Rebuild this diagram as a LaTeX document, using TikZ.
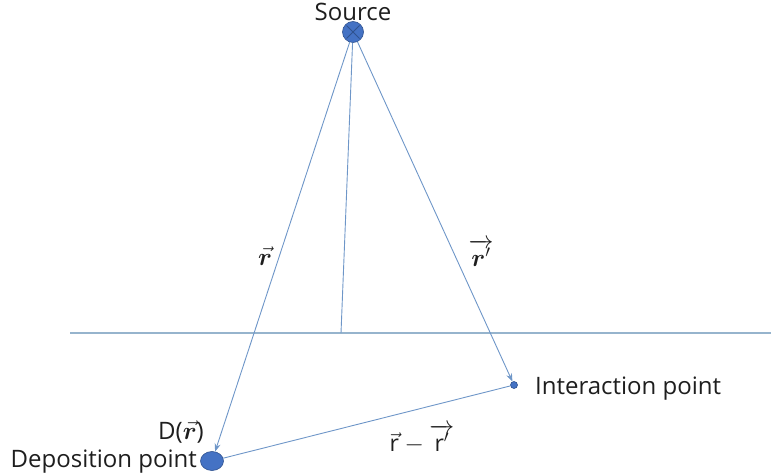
\documentclass[tikz,border=0pt]{standalone}
\usepackage{fontspec}
\setmainfont{Open Sans}
\usepackage{amsmath}
\usepackage{bm}
\usetikzlibrary{shapes.geometric,arrows.meta,calc}
\definecolor{lineblue}{RGB}{110,150,200}
\definecolor{planeblue}{RGB}{150,180,205}
\definecolor{dotfill}{RGB}{68,114,196}
\definecolor{dotedge}{RGB}{47,82,143}
\definecolor{txt}{RGB}{30,30,30}
\tikzset{
  conn/.style={draw=lineblue, line width=0.9pt},
  arr/.style={conn, -{Stealth[length=8pt,width=6pt]}},
  dot/.style={circle, fill=dotfill, draw=dotedge, line width=0.6pt, inner sep=0pt},
  lbl/.style={text=txt, inner sep=0pt, font=\fontsize{24}{28}\selectfont},
  mlbl/.style={text=txt, inner sep=0pt, font=\fontsize{25}{29}\selectfont}
}
\begin{document}
\begin{tikzpicture}[x=1pt,y=-1pt]
\useasboundingbox (0,0) rectangle (771,476);
% points
\node[dot, minimum size=21pt] (src) at (353,32) {};
\draw[dotedge, line width=0.8pt] ($(src.center)+(-6.5,-6.5)$) -- ($(src.center)+(6.5,6.5)$)
  ($(src.center)+(-6.5,6.5)$) -- ($(src.center)+(6.5,-6.5)$);
\node[dot, ellipse, minimum width=23pt, minimum height=19pt] (dep) at (212,461) {};
\node[dot, minimum size=7pt] (int) at (514,385) {};
% reference plane
\coordinate (hl) at (70,333);
\coordinate (hr) at (771,333);
\coordinate (foot) at (341,333);
\draw[conn, draw=planeblue, line width=1.1pt] (hl) -- (hr);
\draw[conn] (src) -- (foot);
% vectors
\draw[arr] (src) -- (dep);
\draw[arr] (src) -- (int);
\draw[conn] (int) -- (dep);
% labels
\node[lbl, anchor=base] (srclbl) at (353,21) {Source};
\node[lbl, anchor=base east] (deplbl) at (197,467) {Deposition point};
\node[lbl, anchor=base west] (intlbl) at (535,394) {Interaction point};
\node[lbl, anchor=base east] (dlbl) at (204,439) {D($\vec{\bm r}$)};
\node[mlbl] (rlbl) at (265,256) {$\vec{\bm r}$};
\node[mlbl] (rplbl) at (481,253) {$\overrightarrow{\bm r'}$};
\node[mlbl, font=\fontsize{23}{27}\selectfont] (difflbl) at (422,439) {$\vec{\mathrm{r}}-\overrightarrow{\mathrm{r}'}$};
\end{tikzpicture}
\end{document}
